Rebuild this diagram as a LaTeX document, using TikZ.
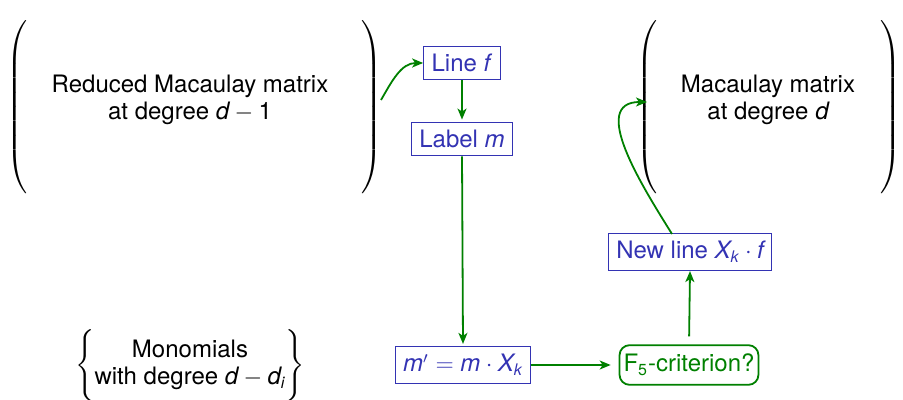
\documentclass[tikz,border=0pt]{standalone}
\usepackage{amsmath}
\usepackage{fontspec}
\setmainfont{TeX Gyre Heros}
\usetikzlibrary{arrows.meta}

\definecolor{struct}{RGB}{51,51,179}
\definecolor{flow}{RGB}{0,128,0}
% sans italic variable inside math
\newcommand{\sv}[1]{\text{\itshape #1}}
% invisible rule that sets the height of a big delimiter
\newcommand{\tallrule}[1]{\vrule height #1 depth #1 width 0pt}

\tikzset{
  stepbox/.style={draw=struct, line width=0.5pt, text=struct, inner sep=4pt},
  testbox/.style={draw=flow, line width=0.9pt, text=flow, rounded corners=5pt, inner xsep=2pt, inner ysep=4.5pt},
  flowarrow/.style={draw=flow, line width=0.9pt, -{Stealth[length=5.5pt,width=4.5pt,inset=1.5pt]}},
  delim/.style={inner sep=0pt, text=black},
  plain/.style={align=center, inner sep=0pt, text=black},
}

\begin{document}
\begin{tikzpicture}[x=0.5pt, y=0.5pt, font=\fontsize{12}{13.5}\selectfont]
\useasboundingbox (0,0) rectangle (903,400);

% reduced Macaulay matrix at degree d-1
\node[delim] (redL) at (18,293) {$\left(\tallrule{40pt}\right.$};
\node[delim] (redR) at (371,293) {$\left.\tallrule{40pt}\right)$};
\node[plain] (redText) at (190,300) {Reduced Macaulay matrix\\at degree $\sv{d} - \text{1}$};

% Macaulay matrix at degree d
\node[delim] (macL) at (648,293) {$\left(\tallrule{40pt}\right.$};
\node[delim] (macR) at (890,293) {$\left.\tallrule{40pt}\right)$};
\node[plain] (macText) at (768,300) {Macaulay matrix\\at degree $\sv{d}$};

% monomial set
\node[delim] (mono) at (190,33) {$\left\{\tallrule{16pt}\begin{tabular}{@{}c@{}}Monomials\\with degree $\sv{d}-\sv{d}_{\sv{i}}$\end{tabular}\right\}$};

% processing steps
\node[stepbox] (lineF) at (462,337) {Line \textit{f}};
\node[stepbox] (labelM) at (462,261) {Label \textit{m}};
\node[stepbox] (mprime) at (463,35) {$\sv{m}' = \sv{m}\cdot\sv{X}_{\sv{k}}$};
\node[testbox] (crit) at (689,35) {F$_{\text{5}}$-criterion?};
\node[stepbox] (newline) at (690,148) {New line $\sv{X}_{\sv{k}}\cdot\sv{f}$};

% connector end points at the matrices
\coordinate (redOut) at (381,300);
\coordinate (newOut) at (672,166);
\coordinate (macIn) at (647,298);

% connectors
\draw[flowarrow] (redOut) to[out=60, in=180] (lineF.west);
\draw[flowarrow, shorten >=1pt] (lineF.south) -- (labelM.north);
\draw[flowarrow, shorten >=1pt] (labelM.south) -- (mprime.north);
\draw[flowarrow, shorten >=4pt] (mprime.east) -- (crit.west);
\draw[flowarrow, shorten <=4pt] (crit.north) -- (newline.south);
\draw[flowarrow] (newOut) to[out=122, in=180, looseness=1.1] (macIn);
\end{tikzpicture}
\end{document}
